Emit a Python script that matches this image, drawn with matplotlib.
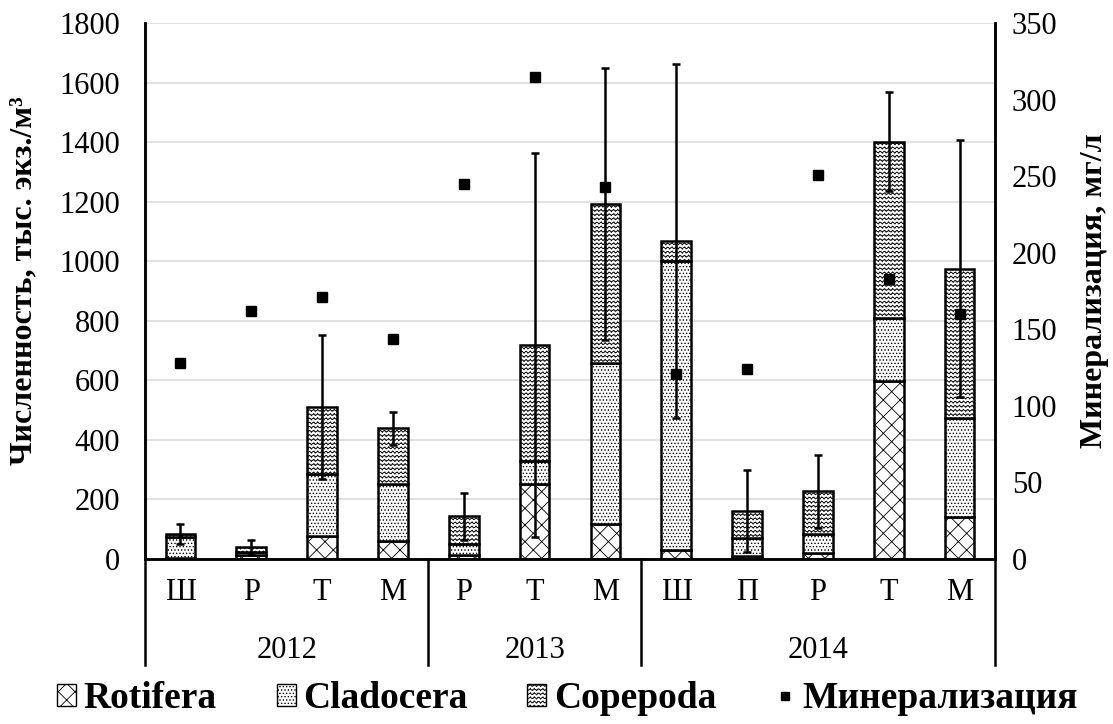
import warnings
import numpy as np
import matplotlib
matplotlib.use('Agg')
import matplotlib.pyplot as plt
import matplotlib.hatch as mhatch
from matplotlib.patches import Patch
from matplotlib.lines import Line2D
from matplotlib.path import Path

warnings.filterwarnings('ignore')

# ---------------------------------------------------------------------------
# Data
# ---------------------------------------------------------------------------
seasons = ['Ш', 'Р', 'Т', 'М', 'Р', 'Т', 'М', 'Ш', 'П', 'Р', 'Т', 'М']
years = ['2012', '2013', '2014']
year_sizes = [4, 3, 5]

rotifera = [4, 14, 76, 60, 12, 252, 117, 29, 9, 19, 597, 140]
cladocera = [71, 8, 209, 192, 37, 78, 540, 971, 62, 65, 212, 334]
copepoda = [8, 18, 226, 187, 94, 389, 537, 68, 90, 143, 593, 501]
total_sd = [33, 25, 243, 56, 80, 645, 457, 595, 138, 124, 167, 432]
mineral = [128, 162, 171, 144, 245, 315, 243, 121, 124, 251, 183, 160]


# ---------------------------------------------------------------------------
# Wavy hatch ('~') for Copepoda
# ---------------------------------------------------------------------------
class WavyHatch(mhatch.HatchPatternBase):
    npts = 80

    def __init__(self, hatch, density):
        self.num_lines = int(hatch.count('~') * density)
        self.num_vertices = self.num_lines * self.npts

    def set_vertices_and_codes(self, vertices, codes):
        x = np.linspace(0, 1, self.npts)
        cycles = self.num_lines
        for i in range(self.num_lines):
            y = (i + 0.5) / self.num_lines + 0.012 * np.sin(2 * np.pi * cycles * x)
            sl = slice(i * self.npts, (i + 1) * self.npts)
            vertices[sl, 0] = x
            vertices[sl, 1] = y
            codes[sl] = Path.LINETO
            codes[i * self.npts] = Path.MOVETO


mhatch._hatch_types.append(WavyHatch)

plt.rcParams['font.family'] = ['Liberation Serif', 'DejaVu Serif']
plt.rcParams['hatch.linewidth'] = 0.6

# ---------------------------------------------------------------------------
# Figure
# ---------------------------------------------------------------------------
fig = plt.figure(figsize=(11.13, 7.24), dpi=100)
ax = fig.add_axes([0.1303, 0.2279, 0.7637, 0.7401])
ax2 = ax.twinx()

x = np.arange(len(seasons))
w = 0.42
rot = np.array(rotifera)
cla = np.array(cladocera)
cop = np.array(copepoda)
tot = rot + cla + cop

ax.set_axisbelow(True)
ax.grid(axis='y', color='#dcdcdc', lw=1.2)

ax.bar(x, rot, w, color='white', edgecolor='black', lw=1.8, hatch='xx', zorder=2)
ax.bar(x, cla, w, bottom=rot, color='white', edgecolor='black', lw=1.8,
       hatch='.....', zorder=2)
ax.bar(x, cop, w, bottom=rot + cla, color='white', edgecolor='black', lw=1.8,
       hatch='~~~~', zorder=2)
ax.errorbar(x, tot, yerr=total_sd, fmt='none', ecolor='black', elinewidth=1.8,
            capsize=2.8, capthick=1.8, zorder=3)

ax2.plot(x, mineral, 's', color='black', ms=7.5, zorder=4)

ax.set_xlim(-0.5, len(seasons) - 0.5)
ax.set_ylim(0, 1800)
ax.set_yticks(range(0, 1801, 200))
ax2.set_ylim(0, 350)
ax2.set_yticks(range(0, 351, 50))

ax.set_xticks(x)
ax.set_xticklabels(seasons, fontsize=22)
ax.tick_params(axis='x', length=0, pad=14)
ax.tick_params(axis='y', length=0, labelsize=22, pad=18)
ax2.tick_params(axis='y', length=0, labelsize=22, pad=12)

for a in (ax, ax2):
    a.spines['top'].set_visible(False)
    for s in ('left', 'right', 'bottom'):
        a.spines[s].set_linewidth(1.8)
        a.spines[s].set_color('black')

ax.set_ylabel('Численность, тыс. экз./м³', fontsize=23, fontweight='bold')
ax.yaxis.set_label_coords(-0.125, 0.52)
ax2.set_ylabel('Минерализация, мг/л', fontsize=23, fontweight='bold')
ax2.yaxis.set_label_coords(1.1, 0.5)

# multi-level category axis: year separators and labels
trans = ax.get_xaxis_transform()
edges = np.concatenate([[0], np.cumsum(year_sizes)]) - 0.5
for e in edges:
    ax.plot([e, e], [0, -0.198], color='black', lw=1.8, transform=trans,
            clip_on=False)
for yr, lo, hi in zip(years, edges[:-1], edges[1:]):
    ax.text((lo + hi) / 2, -0.17, yr, transform=trans, ha='center',
            va='center', fontsize=22)

# legend
handles = [
    Patch(facecolor='white', edgecolor='black', hatch='xx', label='Rotifera'),
    Patch(facecolor='white', edgecolor='black', hatch='.....', label='Cladocera'),
    Patch(facecolor='white', edgecolor='black', hatch='~~~~', label='Copepoda'),
    Line2D([], [], marker='s', ls='none', color='black', ms=6,
           label='Минерализация'),
]
fig.legend(handles=handles, loc='center', bbox_to_anchor=(0.51, 0.035), ncol=4,
           frameon=False, prop={'size': 27, 'weight': 'bold'},
           handlelength=0.5, handleheight=0.5, handletextpad=0.2,
           columnspacing=1.6, borderpad=0.1)

fig.savefig('out.png', dpi=100)
